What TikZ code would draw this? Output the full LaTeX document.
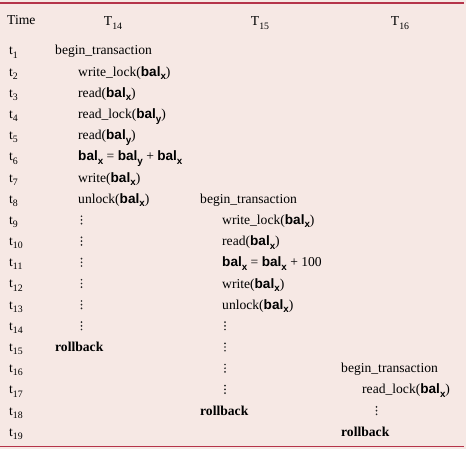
\documentclass[tikz,border=0pt]{standalone}
\usepackage{fontspec}
\setmainfont{Liberation Serif}
\setsansfont{Liberation Sans}
\definecolor{bgpink}{RGB}{246,232,228}
\definecolor{rulered}{RGB}{181,52,74}
\newcommand{\lo}[1]{\raisebox{-0.5ex}{\fontsize{9.8}{10}\selectfont #1}}
\newcommand{\tl}[1]{t\lo{#1}}
\newcommand{\bal}[1]{\textsf{\bfseries bal\lo{#1}}}
\tikzset{
  txt/.style={anchor=base west, inner sep=0pt, font=\fontsize{13.6}{15}\selectfont},
  hdr/.style={anchor=base, inner sep=0pt, font=\fontsize{13.6}{15}\selectfont},
  dts/.style={anchor=center, inner sep=0pt, minimum width=4pt, minimum height=12pt,
    path picture={
      \fill[black!85] ([yshift=3.7pt]path picture bounding box.center) circle (0.95pt);
      \fill[black!85] (path picture bounding box.center) circle (0.95pt);
      \fill[black!85] ([yshift=-3.7pt]path picture bounding box.center) circle (0.95pt);
    }}
}
\begin{document}
\begin{tikzpicture}[x=1pt,y=-1pt]
\fill[bgpink] (0,0) rectangle (466,449);
\useasboundingbox (0,0) rectangle (468,449);
\draw[rulered, line width=1.6pt] (0,3.3) -- (464,3.3);
\draw[rulered, line width=1.6pt] (0,446.5) -- (464,446.5);
% header
\node[txt] (time) at (7,25) {Time};
\node[hdr] (h14) at (113,26) {T\lo{14}};
\node[hdr] (h15) at (260,26) {T\lo{15}};
\node[hdr] (h16) at (400,26) {T\lo{16}};
% time labels
\foreach \i in {1,...,19} {
  \node[txt] (t\i) at (9,{55+21.18*(\i-1)}) {\tl{\i}};
}
% T14
\node[txt] (a1) at (55,55) {begin\_transaction};
\node[txt] (a2) at (78,76.2) {write\_lock(\bal{x})};
\node[txt] (a3) at (78,97.4) {read(\bal{x})};
\node[txt] (a4) at (78,118.5) {read\_lock(\bal{y})};
\node[txt] (a5) at (78,139.7) {read(\bal{y})};
\node[txt] (a6) at (78,160.9) {\bal{x} = \bal{y} + \bal{x}};
\node[txt] (a7) at (78,182.1) {write(\bal{x})};
\node[txt] (a8) at (78,203.3) {unlock(\bal{x})};
\foreach \i in {9,...,14} {
  \node[dts] (ad\i) at (81.5,{50.5+21.18*(\i-1)}) {};
}
\node[txt] (a15) at (55,351.5) {\textbf{rollback}};
% T15
\node[txt] (b8) at (200,203.3) {begin\_transaction};
\node[txt] (b9) at (222,224.4) {write\_lock(\bal{x})};
\node[txt] (b10) at (222,245.6) {read(\bal{x})};
\node[txt] (b11) at (222,266.8) {\bal{x} = \bal{x} + 100};
\node[txt] (b12) at (222,288) {write(\bal{x})};
\node[txt] (b13) at (222,309.2) {unlock(\bal{x})};
\foreach \i in {14,...,17} {
  \node[dts] (bd\i) at (225,{50.5+21.18*(\i-1)}) {};
}
\node[txt] (b18) at (200,415.1) {\textbf{rollback}};
% T16
\node[txt] (c16) at (341,372.7) {begin\_transaction};
\node[txt] (c17) at (362,393.9) {read\_lock(\bal{x})};
\node[dts] (cd18) at (376.5,410.6) {};
\node[txt] (c19) at (341,436.3) {\textbf{rollback}};
\end{tikzpicture}
\end{document}
